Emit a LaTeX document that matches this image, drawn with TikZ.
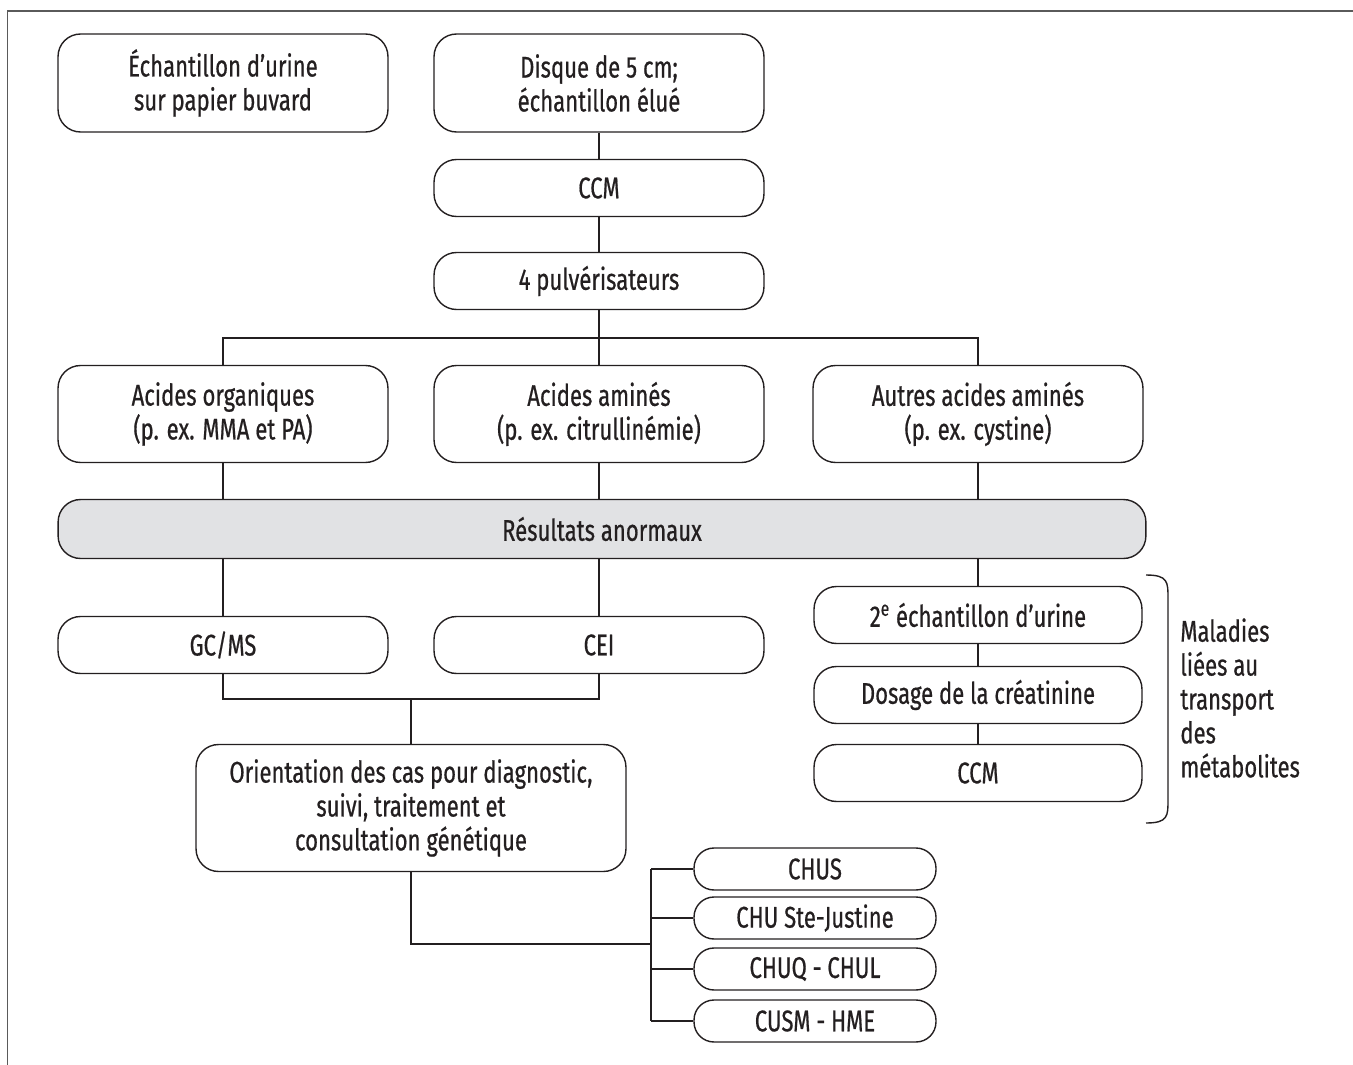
\documentclass[tikz,border=0pt]{standalone}
\usepackage{fontspec}
\setmainfont{Fira Sans}[FakeStretch=0.74, FakeBold=0.6]
\usetikzlibrary{calc}
\definecolor{inkdark}{HTML}{231F20}
\definecolor{resgray}{HTML}{E1E2E4}
\definecolor{framegray}{HTML}{5A5A5A}

\begin{document}
\begin{tikzpicture}[x=0.02cm, y=-0.02cm,
	box/.style={draw=inkdark, line width=0.8pt, rounded corners=0.45cm, inner sep=0pt,
		align=center, text=inkdark, font=\fontsize{17}{19.3}\selectfont},
	bigbox/.style={box, minimum width=6.6cm, minimum height=1.96cm},
	smallbox/.style={box, minimum width=6.6cm, minimum height=1.14cm},
	resbox/.style={box, fill=resgray, minimum width=21.76cm, minimum height=1.18cm},
	pill/.style={box, rounded corners=0.4cm, minimum width=4.84cm, minimum height=0.84cm},
	link/.style={draw=inkdark, line width=0.8pt}]
			%%%%% START %%%%%
			\useasboundingbox (0, 0) rectangle (1353, 1065);
			\draw[framegray, line width=1.1pt] (7.5, 1065) -- (7.5, 11) -- (1353, 11);
			
			% top row
			\node[bigbox] (urine) at (223, 83) {Échantillon d’urine\\sur papier buvard};
			\node[bigbox] (disque) at (599, 83) {Disque de 5 cm;\\échantillon élué};
			\node[smallbox] (ccm) at (599, 188) {CCM};
			\node[smallbox] (pulv) at (599, 281) {4 pulvérisateurs};
			
			% three kinds of acids
			\node[bigbox, minimum height=1.94cm] (org) at (223, 414) {Acides organiques\\(p. ex. MMA et PA)};
			\node[bigbox, minimum height=1.94cm] (amin) at (599, 414) {Acides aminés\\(p. ex. citrullinémie)};
			\node[bigbox, minimum height=1.94cm] (autres) at (978, 414) {Autres acides aminés\\(p. ex. cystine)};
			
			\node[resbox] (res) at (602, 529) {Résultats anormaux};
			
			\node[smallbox] (gcms) at (223, 645) {GC/MS};
			\node[smallbox] (cei) at (599, 645) {CEI};
			\node[box, minimum width=8.6cm, minimum height=2.54cm] (orient) at (411, 808)
				{Orientation des cas pour diagnostic,\\suivi, traitement et\\consultation génétique};
			
			% right column
			\node[smallbox, minimum width=6.56cm] (ech) at (978, 615) {2\textsuperscript{e} échantillon d’urine};
			\node[smallbox, minimum width=6.56cm] (dosage) at (978, 695) {Dosage de la créatinine};
			\node[smallbox, minimum width=6.56cm] (ccmb) at (978, 773) {CCM};
			
			% hospitals
			\node[pill] (chus) at (815, 869) {CHUS};
			\node[pill] (chusj) at (815, 918) {CHU Ste-Justine};
			\node[pill] (chuq) at (815, 969) {CHUQ - CHUL};
			\node[pill] (cusm) at (815, 1021) {CUSM - HME};
			
			% bracket and its label
			\coordinate (brtop) at (1146, 575);
			\coordinate (brbot) at (1146, 823);
			\draw[link] (brtop) .. controls (1168, 575) and (1168, 582) .. (1168, 598)
				-- (1168, 800) .. controls (1168, 816) and (1168, 823) .. (brbot);
			\node[anchor=west, align=left, inner sep=0pt, text=inkdark,
				font=\fontsize{17}{19.3}\selectfont] (maladies) at (1180, 698)
				{Maladies\\liées au\\transport\\des\\métabolites};
			
			% connectors
			\coordinate (bar) at (599, 338);
			\coordinate (join) at (411, 699);
			\coordinate (fork) at (651, 944);
			
			\draw[link] (disque) -- (ccm);
			\draw[link] (ccm) -- (pulv);
			\draw[link] (pulv) -- (amin);
			\draw[link] (org.north) |- (bar) -| (autres.north);
			
			\draw[link] (org.south) -- (org.south |- res.north);
			\draw[link] (amin.south) -- (amin.south |- res.north);
			\draw[link] (autres.south) -- (autres.south |- res.north);
			
			\draw[link] (gcms.north |- res.south) -- (gcms.north);
			\draw[link] (cei.north |- res.south) -- (cei.north);
			\draw[link] (ech.north |- res.south) -- (ech.north);
			\draw[link] (ech) -- (dosage);
			\draw[link] (dosage) -- (ccmb);
			
			\draw[link] (gcms.south) |- (join) -| (cei.south);
			\draw[link] (join) -- (orient.north);
			
			\draw[link] (orient.south) |- (fork);
			\draw[link] (chus.west -| fork) -- (cusm.west -| fork);
			\foreach \h in {chus, chusj, chuq, cusm}
				\draw[link] (\h.west -| fork) -- (\h.west);
			%%%%% END %%%%%
\end{tikzpicture}
\end{document}
